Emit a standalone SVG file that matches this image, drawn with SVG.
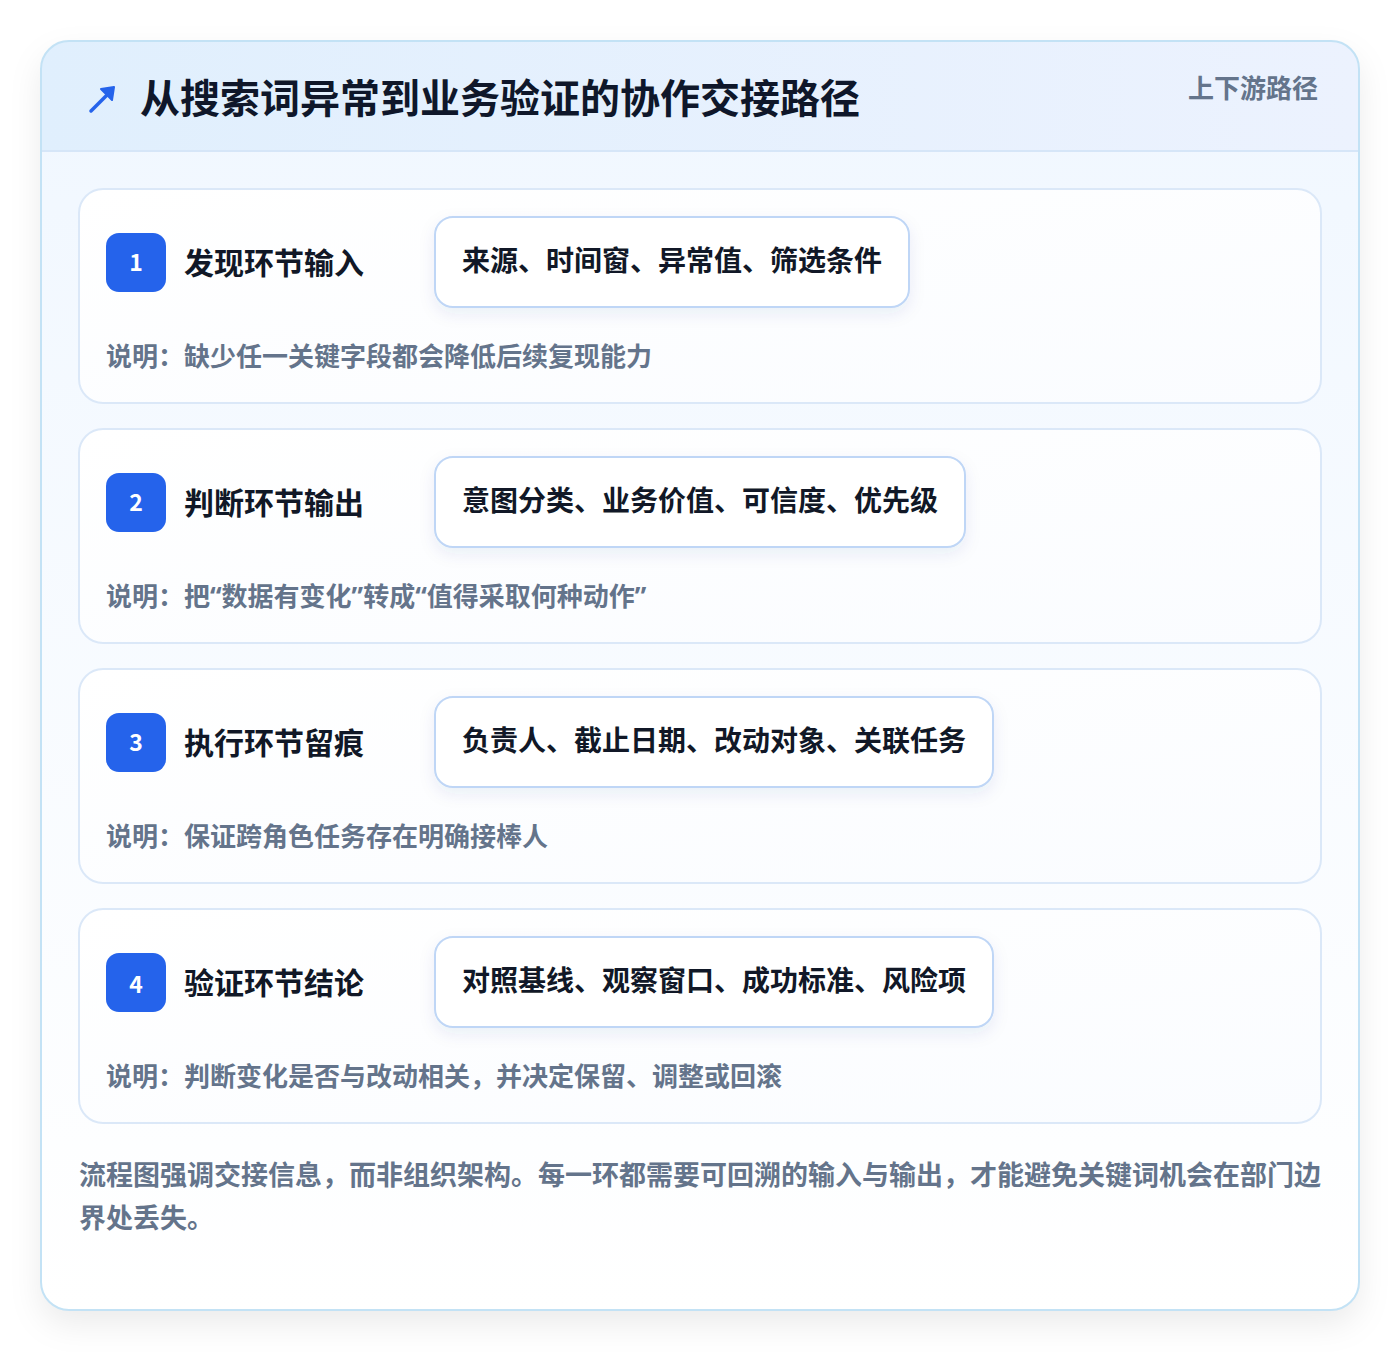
<svg xmlns="http://www.w3.org/2000/svg" width="1400" height="1352" viewBox="0 0 1400 1352">
<defs>
<linearGradient id="hdr" x1="0" y1="0" x2="1" y2="0"><stop offset="0" stop-color="#e0effd"/><stop offset="1" stop-color="#ecf2fe"/></linearGradient>
<linearGradient id="body" x1="0" y1="0" x2="0" y2="1"><stop offset="0" stop-color="#f0f7ff"/><stop offset="1" stop-color="#ffffff"/></linearGradient>
<linearGradient id="cardg" x1="0" y1="0" x2="1" y2="1"><stop offset="0" stop-color="#ffffff"/><stop offset="1" stop-color="#fafcff"/></linearGradient>
<filter id="sh" x="-10%" y="-10%" width="120%" height="120%"><feDropShadow dx="0" dy="14" stdDeviation="16" flood-color="#0f172a" flood-opacity="0.08"/></filter>
<filter id="psh" x="-20%" y="-40%" width="140%" height="180%"><feDropShadow dx="0" dy="6" stdDeviation="8" flood-color="#1e3a8a" flood-opacity="0.08"/></filter>
<clipPath id="cc"><rect x="41" y="41" width="1318" height="1269" rx="28"/></clipPath>
</defs>
<style>
text{font-family:"Noto Sans CJK SC","Noto Sans",sans-serif;font-weight:700}
.card{fill:url(#cardg);stroke:#dbe8f8;stroke-width:2}
.badge{fill:#2563eb}
.num{fill:#ffffff;font-size:23px;text-anchor:middle}
.ttl{fill:#111827;font-size:30px}
.pill{fill:#ffffff;stroke:#bfd6f6;stroke-width:2}
.ptx{fill:#111827;font-size:28px}
.note{fill:#64748b;font-size:26px}
.foot{fill:#64748b;font-size:27px}
.q{font-family:"Noto Sans","DejaVu Sans",sans-serif}
</style>
<rect width="1400" height="1352" fill="#ffffff"/>
<rect x="41" y="41" width="1318" height="1269" rx="28" fill="url(#body)" filter="url(#sh)"/>
<g clip-path="url(#cc)">
<rect x="41" y="41" width="1318" height="110" fill="url(#hdr)"/>
<line x1="41" y1="151" x2="1359" y2="151" stroke="#d6e6f8" stroke-width="2"/>
</g>
<rect x="41" y="41" width="1318" height="1269" rx="28" fill="none" stroke="#c3e2f5" stroke-width="2"/>
<g id="header">
<path d="M91 111 L111 91" stroke="#2563eb" stroke-width="3.5" stroke-linecap="round"/>
<path d="M101 89 L114 87 L112 100 Z" fill="#2563eb" stroke="#2563eb" stroke-width="2" stroke-linejoin="round"/>
<text x="140" y="113" font-size="40" fill="#0f172a">从搜索词异常到业务验证的协作交接路径</text>
<text x="1318" y="98" font-size="26" fill="#64748b" text-anchor="end">上下游路径</text>
</g>
<g id="step1">
<rect class="card" x="79" y="189" width="1242" height="214" rx="24"/>
<rect class="badge" x="106" y="233" width="60" height="59" rx="13"/>
<text class="num" x="136" y="271">1</text>
<text class="ttl" x="184" y="274">发现环节输入</text>
<rect class="pill" x="435" y="217" width="474" height="90" rx="18" filter="url(#psh)"/>
<text class="ptx" x="462" y="271">来源、时间窗、异常值、筛选条件</text>
<text class="note" x="106" y="366">说明：缺少任一关键字段都会降低后续复现能力</text>
</g>
<g id="step2">
<rect class="card" x="79" y="429" width="1242" height="214" rx="24"/>
<rect class="badge" x="106" y="473" width="60" height="59" rx="13"/>
<text class="num" x="136" y="511">2</text>
<text class="ttl" x="184" y="514">判断环节输出</text>
<rect class="pill" x="435" y="457" width="530" height="90" rx="18" filter="url(#psh)"/>
<text class="ptx" x="462" y="511">意图分类、业务价值、可信度、优先级</text>
<text class="note" x="106" y="606">说明：把<tspan class="q">“</tspan>数据有变化<tspan class="q">”</tspan>转成<tspan class="q">“</tspan>值得采取何种动作<tspan class="q">”</tspan></text>
</g>
<g id="step3">
<rect class="card" x="79" y="669" width="1242" height="214" rx="24"/>
<rect class="badge" x="106" y="713" width="60" height="59" rx="13"/>
<text class="num" x="136" y="751">3</text>
<text class="ttl" x="184" y="754">执行环节留痕</text>
<rect class="pill" x="435" y="697" width="558" height="90" rx="18" filter="url(#psh)"/>
<text class="ptx" x="462" y="751">负责人、截止日期、改动对象、关联任务</text>
<text class="note" x="106" y="846">说明：保证跨角色任务存在明确接棒人</text>
</g>
<g id="step4">
<rect class="card" x="79" y="909" width="1242" height="214" rx="24"/>
<rect class="badge" x="106" y="953" width="60" height="59" rx="13"/>
<text class="num" x="136" y="993">4</text>
<text class="ttl" x="184" y="994">验证环节结论</text>
<rect class="pill" x="435" y="937" width="558" height="90" rx="18" filter="url(#psh)"/>
<text class="ptx" x="462" y="991">对照基线、观察窗口、成功标准、风险项</text>
<text class="note" x="106" y="1086">说明：判断变化是否与改动相关，并决定保留、调整或回滚</text>
</g>
<g id="connectors"></g>
<g id="footer">
<text class="foot" x="79" y="1185">流程图强调交接信息，而非组织架构。每一环都需要可回溯的输入与输出，才能避免关键词机会在部门边</text>
<text class="foot" x="79" y="1228">界处丢失。</text>
</g>
</svg>
